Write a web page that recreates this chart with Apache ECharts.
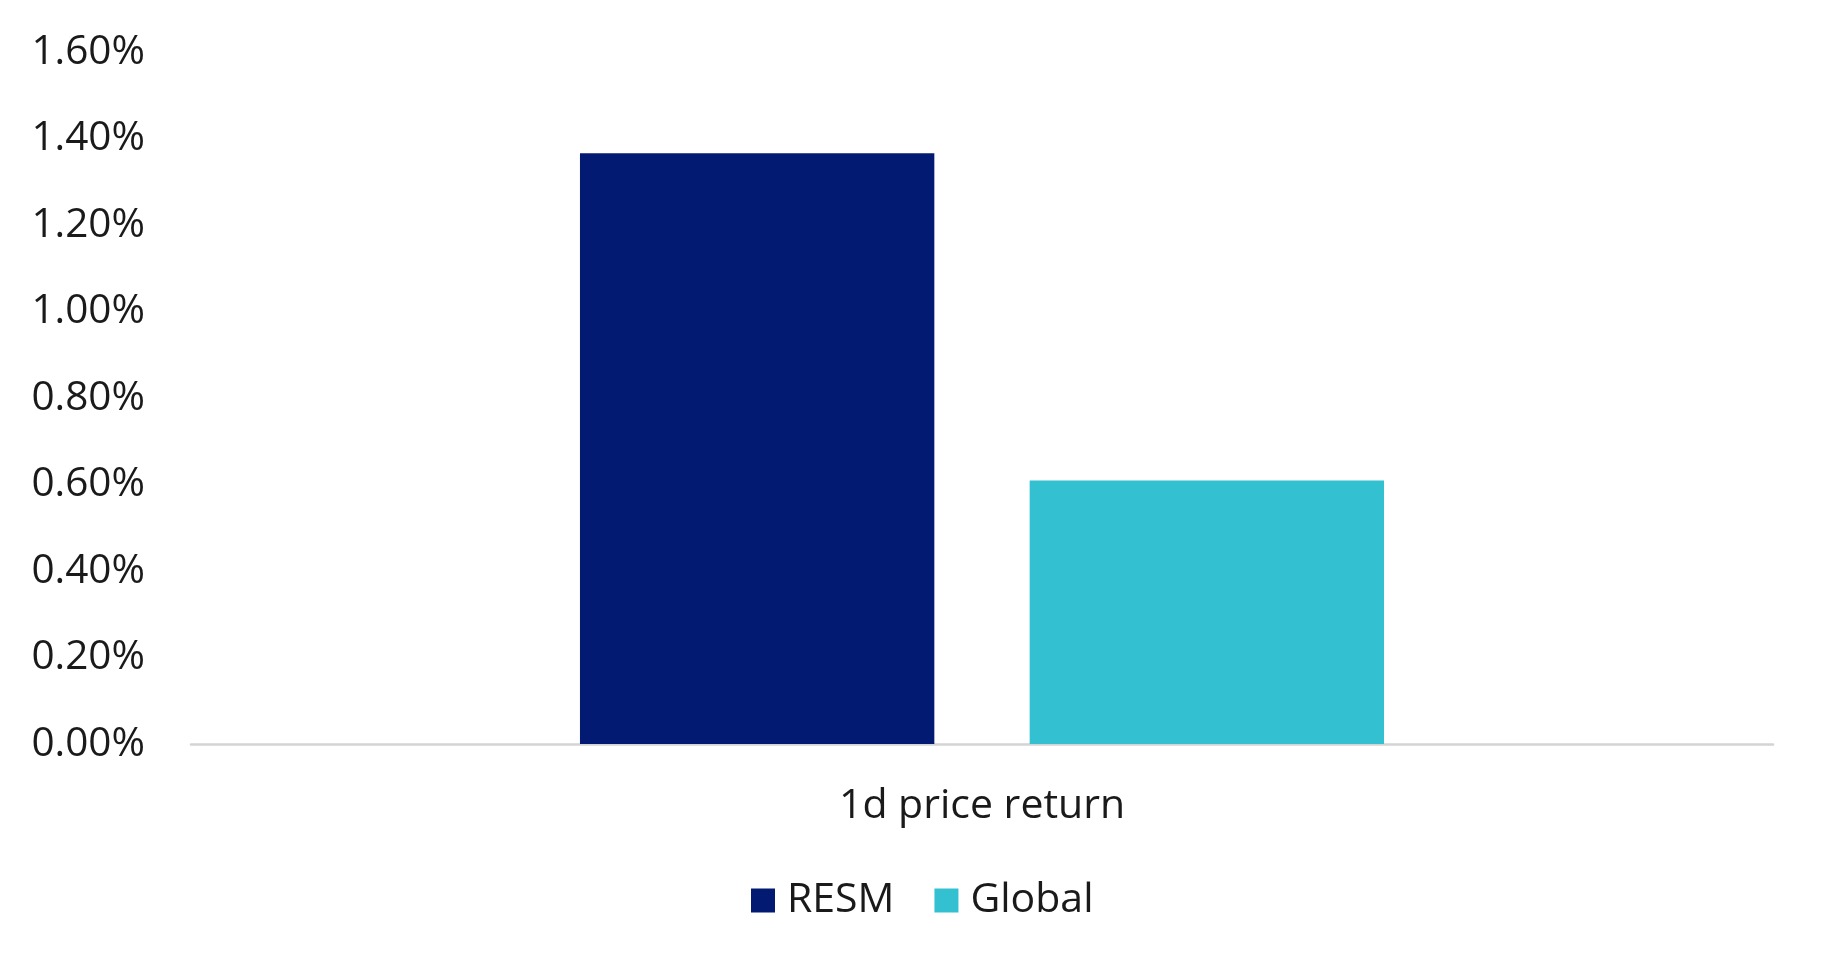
<!DOCTYPE html>
<html>
<head>
<meta charset="utf-8">
<script src="https://cdn.jsdelivr.net/npm/echarts@6/dist/echarts.min.js"></script>
<style>
  html, body { margin: 0; padding: 0; background: #fff; }
  #chart { width: 1826px; height: 969px; }
</style>
</head>
<body>
<div id="chart"></div>
<script>
const categories = ['1d price return']
const seriesNames = ['RESM', 'Global']
const resmValues = [1.366]
const globalValues = [0.609]
const yTicks = { min: 0, max: 1.6, interval: 0.2 }

const eChart = echarts.init(document.getElementById('chart'))
const font = '"Open Sans", sans-serif'
const fontSize = 41

eChart.setOption({
  animation: false,
  textStyle: { fontFamily: font },
  grid: { left: 191, right: 53, top: 52, bottom: 225, containLabel: false },
  legend: {
    data: seriesNames,
    left: 746,
    top: 875,
    itemWidth: 24,
    itemHeight: 24,
    itemGap: 40,
    icon: 'rect',
    textStyle: { fontFamily: font, fontSize: fontSize, color: '#1a1a1a', padding: [0, 0, 0, 7] }
  },
  xAxis: {
    type: 'category',
    data: categories,
    axisTick: { show: false },
    axisLine: { lineStyle: { color: '#d4d4d4', width: 2.5 } },
    axisLabel: { margin: 42, fontFamily: font, fontSize: fontSize, color: '#1a1a1a' }
  },
  yAxis: {
    type: 'value',
    min: yTicks.min,
    max: yTicks.max,
    interval: yTicks.interval,
    splitLine: { show: false },
    axisLine: { show: false },
    axisTick: { show: false },
    axisLabel: {
      margin: 46,
      fontFamily: font,
      fontSize: 40.5,
      color: '#1a1a1a',
      formatter: v => v.toFixed(2) + '%'
    }
  },
  series: [
    {
      name: seriesNames[0],
      type: 'bar',
      data: resmValues,
      barWidth: '22.4%',
      barGap: '26.9%',
      itemStyle: { color: '#021a72' }
    },
    {
      name: seriesNames[1],
      type: 'bar',
      data: globalValues,
      barWidth: '22.4%',
      itemStyle: { color: '#33c0d1' }
    }
  ]
})

window.addEventListener('resize', () => eChart.resize())
</script>
</body>
</html>
